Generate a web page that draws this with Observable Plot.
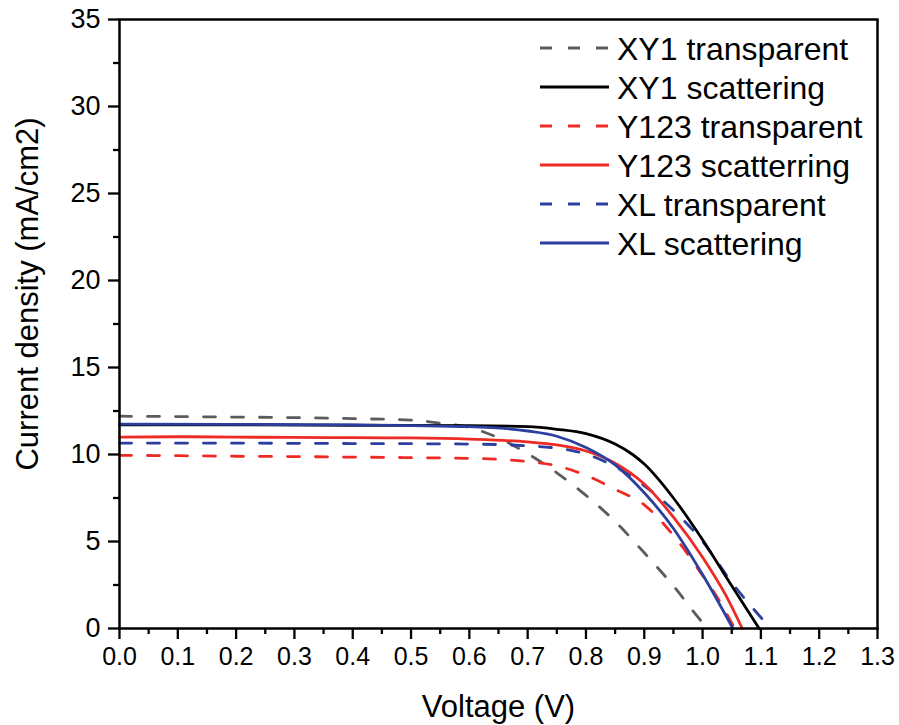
<!DOCTYPE html>
<html>
<head>
<meta charset="utf-8">
<script src="https://cdn.jsdelivr.net/npm/d3@7"></script>
<script src="https://cdn.jsdelivr.net/npm/@observablehq/plot@0.6"></script>
<style>
  html, body { margin: 0; padding: 0; background: #fff; }
  #wrap { position: relative; width: 899px; height: 725px; }
  #legend { position: absolute; left: 0; top: 0; pointer-events: none; }
</style>
</head>
<body>
<div id="wrap"></div>
<script>
// ---- data (Voltage V, Current density mA/cm2) ----
const xy1Transparent = [[0,12.2],[0.1,12.18],[0.2,12.15],[0.3,12.12],[0.4,12.06],[0.5,11.98],[0.55,11.8],[0.6,11.55],[0.65,10.95],[0.7,10.05],[0.75,8.95],[0.8,7.65],[0.85,6.15],[0.9,4.35],[0.95,2.45],[1.0,0.35],[1.01,0]];
const xy1Scattering = [[0,11.7],[0.2,11.7],[0.4,11.68],[0.6,11.66],[0.7,11.6],[0.75,11.45],[0.8,11.2],[0.85,10.6],[0.88,10.0],[0.9,9.45],[0.95,7.5],[1.0,5.1],[1.05,2.45],[1.097,0]];
const y123Transparent = [[0,9.95],[0.1,9.93],[0.2,9.9],[0.3,9.88],[0.4,9.85],[0.5,9.82],[0.6,9.78],[0.65,9.72],[0.7,9.6],[0.75,9.35],[0.8,8.8],[0.85,8.0],[0.9,7.1],[0.95,5.35],[1.0,3.05],[1.025,1.8],[1.055,0]];
const y123Scattering = [[0,11.0],[0.1,11.02],[0.2,11.0],[0.3,10.98],[0.4,10.97],[0.5,10.95],[0.6,10.88],[0.7,10.72],[0.75,10.55],[0.8,10.2],[0.85,9.5],[0.9,8.3],[0.95,6.4],[1.0,4.1],[1.04,1.9],[1.068,0]];
const xlTransparent = [[0,10.65],[0.2,10.65],[0.4,10.63],[0.6,10.6],[0.7,10.5],[0.78,10.2],[0.85,9.3],[0.9,8.2],[0.95,6.8],[1.0,5.0],[1.05,2.65],[1.117,0]];
const xlScattering = [[0,11.75],[0.2,11.73],[0.4,11.7],[0.6,11.6],[0.7,11.35],[0.75,11.05],[0.8,10.4],[0.85,9.4],[0.9,7.8],[0.95,5.75],[1.0,3.1],[1.052,0]];

const seriesNames = ["XY1 transparent","XY1 scattering","Y123 transparent","Y123 scatterring","XL transparent","XL scattering"];
const seriesData = [xy1Transparent, xy1Scattering, y123Transparent, y123Scattering, xlTransparent, xlScattering];

const xTicks = [0,0.1,0.2,0.3,0.4,0.5,0.6,0.7,0.8,0.9,1.0,1.1,1.2,1.3];
const xMinorTicks = [0.05,0.15,0.25,0.35,0.45,0.55,0.65,0.75,0.85,0.95,1.05,1.15,1.25];
const yTicks = [0,5,10,15,20,25,30,35];
const yMinorTicks = [2.5,7.5,12.5,17.5,22.5,27.5,32.5];

const xTitle = "Voltage (V)";
const yTitle = "Current density (mA/cm2)";

// ---- styles ----
const styles = [
  {stroke: "#5c5c5c", dash: "12,16"},
  {stroke: "#000000", dash: null},
  {stroke: "#ee2a24", dash: "12,16"},
  {stroke: "#ee2a24", dash: null},
  {stroke: "#2c3f9e", dash: "12,16"},
  {stroke: "#2c3f9e", dash: null}
];
const drawOrder = [0, 2, 4, 1, 3, 5];
const FONT = "'Liberation Sans', Arial, Helvetica, sans-serif";

const lineMarks = drawOrder.map(i => Plot.line(seriesData[i], {
  x: d => d[0], y: d => d[1],
  stroke: styles[i].stroke,
  strokeWidth: 2.8,
  strokeDasharray: styles[i].dash,
  curve: "monotone-x"
}));

const chart = Plot.plot({
  width: 899,
  height: 725,
  marginLeft: 119,
  marginRight: 22,
  marginTop: 19,
  marginBottom: 97,
  style: {fontFamily: FONT, background: "#fff", color: "#000"},
  x: {domain: [0, 1.3]},
  y: {domain: [0, 35]},
  marks: [
    ...lineMarks,
    Plot.frame({stroke: "#000", strokeWidth: 2.5}),
    Plot.axisX({ticks: xTicks, tickFormat: d3.format(".1f"), tickSize: 11, tickPadding: 8, fontSize: 25, strokeWidth: 2.3, label: null}),
    Plot.axisX({ticks: xMinorTicks, tickFormat: () => "", tickSize: 6, strokeWidth: 2.3, label: null}),
    Plot.axisY({ticks: yTicks, tickFormat: d3.format("d"), tickSize: 11, tickPadding: 8, fontSize: 27, strokeWidth: 2.3, label: null}),
    Plot.axisY({ticks: yMinorTicks, tickFormat: () => "", tickSize: 6, strokeWidth: 2.3, label: null}),
    Plot.text([xTitle], {text: d => d, frameAnchor: "bottom", lineAnchor: "middle", textAnchor: "middle", dy: 79, fontSize: 31, fill: "#000"}),
    Plot.text([yTitle], {text: d => d, frameAnchor: "left", lineAnchor: "middle", textAnchor: "middle", dx: -91, dy: -30, rotate: -90, fontSize: 31, fill: "#000"})
  ]
});

const wrap = document.getElementById("wrap");
wrap.appendChild(chart);

// ---- legend overlay ----
const ns = "http://www.w3.org/2000/svg";
const leg = document.createElementNS(ns, "svg");
leg.setAttribute("id", "legend");
leg.setAttribute("width", 899);
leg.setAttribute("height", 725);
const x1 = 540, x2 = 609, tx = 617, y0 = 48, dyRow = 39;
seriesNames.forEach((name, i) => {
  const y = y0 + i * dyRow;
  const ln = document.createElementNS(ns, "line");
  ln.setAttribute("x1", x1); ln.setAttribute("x2", x2);
  ln.setAttribute("y1", y); ln.setAttribute("y2", y);
  ln.setAttribute("stroke", styles[i].stroke);
  ln.setAttribute("stroke-width", 2.8);
  if (styles[i].dash) ln.setAttribute("stroke-dasharray", "12,16");
  leg.appendChild(ln);
  const t = document.createElementNS(ns, "text");
  t.setAttribute("x", tx);
  t.setAttribute("y", y + 11.5);
  t.setAttribute("font-size", 32);
  t.setAttribute("font-family", FONT);
  t.setAttribute("fill", "#000");
  t.textContent = name;
  leg.appendChild(t);
});
wrap.appendChild(leg);
</script>
</body>
</html>
